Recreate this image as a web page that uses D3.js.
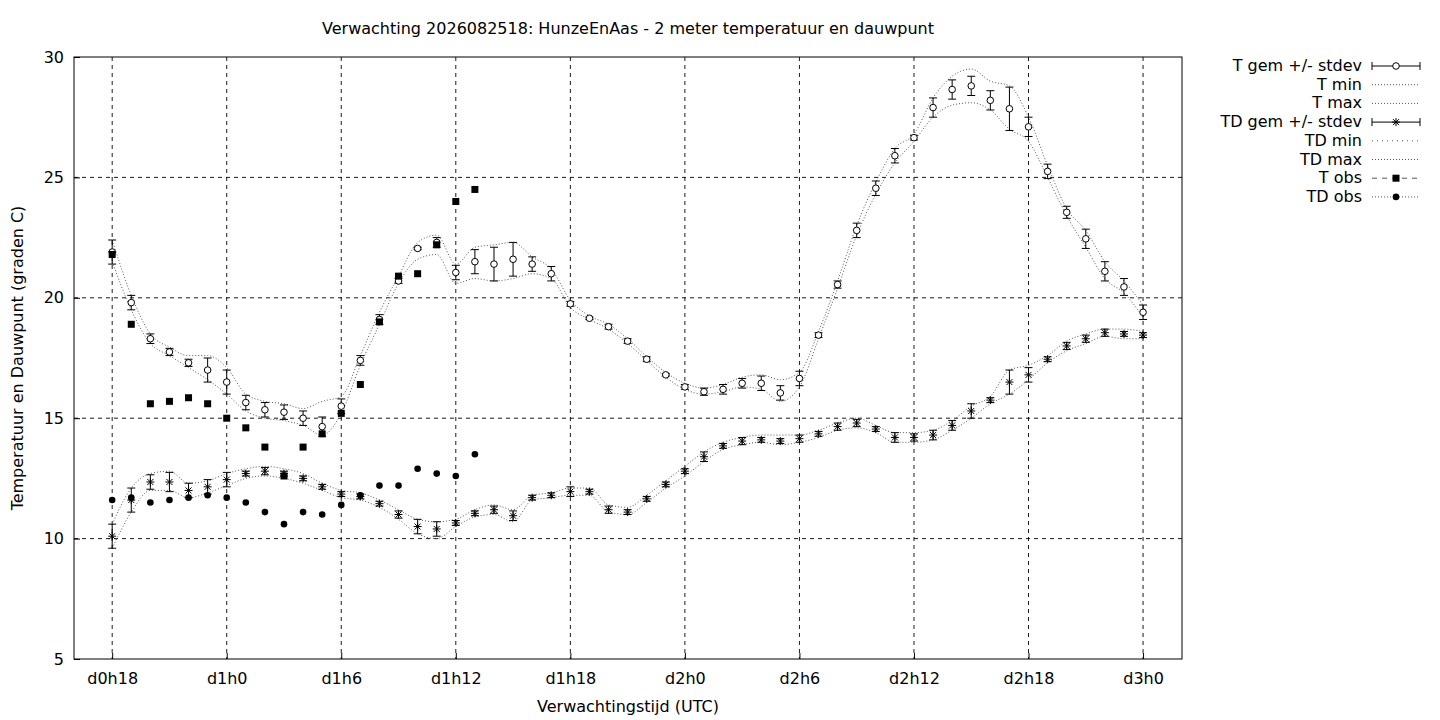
<!DOCTYPE html>
<html><head><meta charset="utf-8">
<script src="https://cdn.jsdelivr.net/npm/d3@7"></script>
<style>body{margin:0;background:#fff}text{font-family:"DejaVu Sans";font-size:16px;fill:#000}</style>
</head><body><svg id="c" width="1440" height="720"></svg>
<script>
// hours since d0h0, one per forecast step
var hours = d3.range(18, 73);
var tGem = [21.9,19.8,18.3,17.75,17.3,17.0,16.5,15.65,15.35,15.25,15.0,14.65,15.5,17.4,19.1,20.7,22.05,22.3,21.05,21.5,21.4,21.6,21.4,21.0,19.75,19.15,18.8,18.2,17.45,16.8,16.3,16.1,16.2,16.45,16.45,16.05,16.65,18.45,20.55,22.8,24.55,25.9,26.65,27.9,28.65,28.8,28.2,27.85,27.1,25.25,23.55,22.45,21.1,20.45,19.4];
var tSd = [0.5,0.3,0.2,0.15,0.15,0.5,0.5,0.3,0.3,0.3,0.3,0.4,0.3,0.2,0.2,0.1,0.05,0.2,0.3,0.5,0.7,0.7,0.3,0.3,0.1,0.05,0.1,0.1,0.1,0.05,0.1,0.15,0.2,0.2,0.3,0.3,0.3,0.1,0.15,0.3,0.3,0.3,0.1,0.4,0.4,0.4,0.4,0.9,0.4,0.3,0.25,0.4,0.4,0.35,0.3];
var tMin = [21.5,19.5,18.1,17.6,17.1,16.6,16.0,15.3,15.0,14.9,14.7,14.3,15.2,17.2,18.9,20.6,21.6,21.8,20.6,20.8,20.7,20.8,21.0,20.8,19.6,19.1,18.7,18.1,17.4,16.7,16.2,16.0,16.1,16.3,16.2,15.7,16.3,18.3,20.4,22.6,24.3,25.6,26.5,27.5,28.0,28.1,27.8,27.0,26.5,25.0,23.4,22.1,20.8,20.2,19.2];
var tMax = [22.4,20.1,18.5,17.95,17.6,17.6,17.1,16.0,15.7,15.6,15.4,15.7,15.9,17.6,19.4,20.9,22.3,22.6,21.4,22.1,22.2,22.3,21.7,21.2,19.9,19.25,18.9,18.3,17.55,16.9,16.45,16.25,16.4,16.7,16.8,16.6,16.9,18.6,20.7,23.0,24.8,26.2,26.8,28.3,29.2,29.5,29.0,28.8,27.5,25.5,23.7,22.8,21.5,20.7,19.7];
var tdGem = [10.1,11.6,12.35,12.35,12.0,12.15,12.45,12.7,12.8,12.7,12.5,12.15,11.85,11.75,11.45,11.0,10.5,10.4,10.65,11.05,11.2,10.95,11.7,11.8,11.95,11.95,11.2,11.1,11.65,12.25,12.8,13.4,13.85,14.05,14.1,14.05,14.15,14.35,14.65,14.8,14.55,14.2,14.2,14.3,14.7,15.3,15.75,16.5,16.8,17.45,18.0,18.3,18.55,18.5,18.45];
var tdSd = [0.5,0.5,0.3,0.4,0.3,0.3,0.3,0.1,0.15,0.1,0.1,0.1,0.1,0.1,0.1,0.15,0.3,0.3,0.1,0.1,0.15,0.2,0.1,0.1,0.2,0.1,0.15,0.1,0.1,0.1,0.1,0.2,0.1,0.15,0.1,0.1,0.15,0.1,0.15,0.15,0.1,0.2,0.15,0.2,0.2,0.3,0.1,0.5,0.3,0.1,0.15,0.15,0.15,0.1,0.1];
var tdMin = [9.6,11.1,12.0,12.0,11.7,11.9,12.2,12.5,12.6,12.5,12.3,12.0,11.7,11.6,11.3,10.8,10.2,10.0,10.5,10.9,11.0,10.7,11.6,11.7,11.8,11.8,11.1,11.0,11.5,12.1,12.6,13.2,13.7,13.9,14.0,13.9,14.0,14.2,14.5,14.6,14.4,14.0,14.0,14.1,14.5,15.0,15.6,16.0,16.6,17.3,17.8,18.1,18.4,18.3,18.3];
var tdMax = [10.6,12.1,12.7,12.8,12.3,12.4,12.7,12.9,13.0,12.9,12.7,12.3,12.0,11.9,11.6,11.2,10.8,10.7,10.8,11.2,11.4,11.2,11.8,11.9,12.1,12.1,11.4,11.3,11.8,12.4,13.0,13.6,14.0,14.2,14.3,14.3,14.3,14.5,14.8,15.0,14.7,14.4,14.4,14.5,14.9,15.5,15.9,17.0,17.2,17.6,18.2,18.5,18.7,18.7,18.6];
var obsHours = d3.range(18, 38);
var tObs = [21.8,18.9,15.6,15.7,15.85,15.6,15.0,14.6,13.8,12.6,13.8,14.35,15.2,16.4,19.0,20.9,21.0,22.2,24.0,24.5];
var tdObs = [11.6,11.7,11.5,11.6,11.7,11.8,11.7,11.5,11.1,10.6,11.1,11.0,11.4,11.8,12.2,12.2,12.9,12.7,12.6,13.5];
var xTicks = [18,24,30,36,42,48,54,60,66,72];
var xLabels = ["d0h18","d1h0","d1h6","d1h12","d1h18","d2h0","d2h6","d2h12","d2h18","d3h0"];
var yTicks = [5,10,15,20,25,30];
var legendNames = ["T gem +/- stdev","T min","T max","TD gem +/- stdev","TD min","TD max","T obs","TD obs"];

var svg = d3.select("#c");
var L=74,R=1182,T=57,B=659;
var x = d3.scaleLinear().domain([16,74.04]).range([L,R]);
var y = d3.scaleLinear().domain([5,30]).range([B,T]);

// grid
svg.selectAll(".gx").data(xTicks).enter().append("line")
  .attr("x1",d=>x(d)).attr("x2",d=>x(d)).attr("y1",T).attr("y2",B)
  .attr("stroke","#000").attr("stroke-dasharray","4,4").attr("stroke-width",0.9);
svg.selectAll(".gy").data([10,15,20,25]).enter().append("line")
  .attr("x1",L).attr("x2",R).attr("y1",d=>y(d)).attr("y2",d=>y(d))
  .attr("stroke","#000").attr("stroke-dasharray","4,4").attr("stroke-width",0.9);

// axes
var ax = svg.append("g").attr("transform","translate(0,"+B+")")
  .call(d3.axisBottom(x).tickValues(xTicks).tickFormat((d,i)=>xLabels[i]).tickSizeInner(-6).tickSizeOuter(0).tickPadding(14));
var ay = svg.append("g").attr("transform","translate("+L+",0)")
  .call(d3.axisLeft(y).tickValues(yTicks).tickSizeInner(-6).tickSizeOuter(0).tickPadding(10));
[ax,ay].forEach(g=>{g.select(".domain").remove();g.selectAll("text").style("font-family","DejaVu Sans").style("font-size","16px");});
svg.append("rect").attr("x",L).attr("y",T).attr("width",R-L).attr("height",B-T).attr("fill","none").attr("stroke","#000");

// min/max lines
var line = d3.line().curve(d3.curveMonotoneX);
function mm(arr){
  svg.append("path").attr("d",line(hours.map((h,i)=>[x(h),y(arr[i])])))
    .attr("fill","none").attr("stroke","#555").attr("stroke-width",1).attr("stroke-dasharray","1,2");
}
[tMin,tMax,tdMin,tdMax].forEach(mm);

// error bars
function err(gem,sd){
  var g=svg.append("g").attr("stroke","#000").attr("stroke-width",1);
  hours.forEach((h,i)=>{
    var px=x(h),y1=y(gem[i]-sd[i]),y2=y(gem[i]+sd[i]);
    g.append("line").attr("x1",px).attr("x2",px).attr("y1",y1).attr("y2",y2);
    g.append("line").attr("x1",px-4).attr("x2",px+4).attr("y1",y1).attr("y2",y1);
    g.append("line").attr("x1",px-4).attr("x2",px+4).attr("y1",y2).attr("y2",y2);
  });
}
err(tGem,tSd); err(tdGem,tdSd);

function star(g,px,py){
  var s=4;
  g.append("path").attr("d","M"+(px-s)+","+py+"h"+2*s+"M"+px+","+(py-s)+"v"+2*s+
    "M"+(px-3)+","+(py-3)+"l6,6M"+(px-3)+","+(py+3)+"l6,-6").attr("stroke","#000").attr("stroke-width",1);
}
svg.selectAll(".tg").data(hours).enter().append("circle")
  .attr("cx",d=>x(d)).attr("cy",(d,i)=>y(tGem[i])).attr("r",3.3).attr("fill","#fff").attr("stroke","#000");
var sg=svg.append("g");
hours.forEach((h,i)=>star(sg,x(h),y(tdGem[i])));
svg.selectAll(".to").data(obsHours).enter().append("rect")
  .attr("x",d=>x(d)-3.5).attr("y",(d,i)=>y(tObs[i])-3.5).attr("width",7).attr("height",7).attr("fill","#000");
svg.selectAll(".tdo").data(obsHours).enter().append("circle")
  .attr("cx",d=>x(d)).attr("cy",(d,i)=>y(tdObs[i])).attr("r",3.3).attr("fill","#000");

// labels
svg.append("text").attr("x",628).attr("y",34).attr("text-anchor","middle").text("Verwachting 2026082518: HunzeEnAas - 2 meter temperatuur en dauwpunt");
svg.append("text").attr("x",628).attr("y",712).attr("text-anchor","middle").text("Verwachtingstijd (UTC)");
svg.append("text").attr("transform","translate(23,358) rotate(-90)").attr("text-anchor","middle").text("Temperatuur en Dauwpunt (graden C)");

// legend
var lg=svg.append("g");
legendNames.forEach((n,i)=>{
  var ly=66+i*18.7, x1=1372, x2=1420, xm=(x1+x2)/2;
  lg.append("text").attr("x",1362).attr("y",ly+5).attr("text-anchor","end").text(n);
  if(i==0||i==3){
    lg.append("line").attr("x1",x1).attr("x2",x2).attr("y1",ly).attr("y2",ly).attr("stroke","#000");
    [x1,x2].forEach(e=>lg.append("line").attr("x1",e).attr("x2",e).attr("y1",ly-4).attr("y2",ly+4).attr("stroke","#000"));
    if(i==0) lg.append("circle").attr("cx",xm).attr("cy",ly).attr("r",3.3).attr("fill","#fff").attr("stroke","#000");
    else star(lg,xm,ly);
  } else {
    lg.append("line").attr("x1",x1).attr("x2",x2).attr("y1",ly).attr("y2",ly).attr("stroke","#555")
      .attr("stroke-dasharray",i==6?"5,5":(i==4?"1,4":"1,2"));
    if(i==6) lg.append("rect").attr("x",xm-3.5).attr("y",ly-3.5).attr("width",7).attr("height",7);
    if(i==7) lg.append("circle").attr("cx",xm).attr("cy",ly).attr("r",3.3);
  }
});
</script></body></html>
